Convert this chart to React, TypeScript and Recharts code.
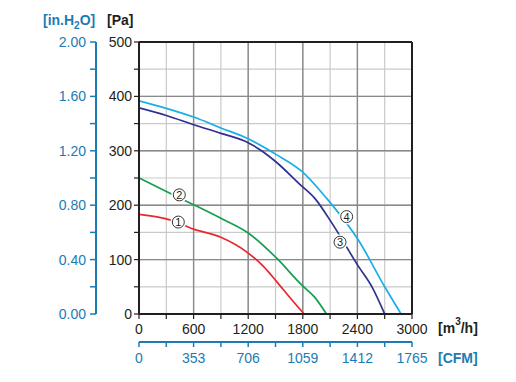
import { LineChart, Line, XAxis, YAxis, CartesianGrid, ReferenceLine, ReferenceDot } from 'recharts'

// flow [m3/h] and pressure [Pa]
const flow1 = [0, 340, 600, 900, 1200, 1370, 1510, 1660, 1815]
const pressure1 = [183, 173, 156, 141, 112, 87, 60, 30, 0]

const flow2 = [0, 340, 600, 900, 1200, 1510, 1790, 1930, 2060]
const pressure2 = [250, 222, 201, 176, 149, 103, 53, 31, 0]

const flow3 = [0, 300, 600, 900, 1200, 1330, 1510, 1770, 1930, 2120, 2410, 2560, 2700]
const pressure3 = [379, 365, 348, 332, 315, 302, 279, 238, 213, 167, 88, 50, 0]

const flow4 = [0, 300, 600, 900, 1200, 1510, 1790, 2060, 2120, 2410, 2700, 2880]
const pressure4 = [392, 378, 362, 342, 322, 293, 262, 213, 201, 136, 50, 0]

const flowTicks = [0, 300, 600, 900, 1200, 1500, 1800, 2100, 2400, 2700, 3000]
const pressureTicks = [0, 50, 100, 150, 200, 250, 300, 350, 400, 450, 500]
const inH2OTicks = [0, 0.2, 0.4, 0.6, 0.8, 1.0, 1.2, 1.4, 1.6, 1.8, 2.0]
const cfmTicks = [0, 176.5, 353, 529.5, 706, 882.5, 1059, 1235.5, 1412, 1588.5, 1765]

const darkFlowLines = [600, 1200, 1800, 2400]
const darkPressureLines = [100, 200, 300, 400]

// curve markers: number, flow, pressure
const markerIds = ['1', '2', '3', '4']
const markerFlow = [432, 443, 2209, 2282]
const markerPressure = [169, 219, 132, 179]

const M3H_TO_CFM = 1765 / 3000

const toPoints = (q: number[], p: number[]) => q.map((v, i) => ({ q: v, p: p[i] }))

const curves = [
  { id: 'c1', data: toPoints(flow1, pressure1), color: '#e8282e' },
  { id: 'c2', data: toPoints(flow2, pressure2), color: '#13a04f' },
  { id: 'c3', data: toPoints(flow3, pressure3), color: '#2e3190' },
  { id: 'c4', data: toPoints(flow4, pressure4), color: '#1aaee6' },
]

// same curve 4 expressed in CFM, only so the CFM axis has a series bound to it
const curve4Cfm = toPoints(flow4.map((q) => q * M3H_TO_CFM), pressure4)

const FONT = '"Liberation Sans", Arial, sans-serif'
const BLACK = '#231f20'
const BLUE = '#1b7cb4'

const Marker = ({ cx, cy, label }: { cx?: number; cy?: number; label: string }) => {
  if (cx == null || cy == null) return null
  return (
    <g>
      <circle cx={cx} cy={cy} r={8} fill="#fff" />
      <circle cx={cx} cy={cy} r={6} fill="#fff" stroke={BLACK} strokeWidth={0.9} />
      <text x={cx} y={cy + 4} textAnchor="middle" fontSize={11} fontFamily={FONT} fill={BLACK}>
        {label}
      </text>
    </g>
  )
}

export default function App() {
  return (
    <div style={{ position: 'absolute', left: 0, top: 0, width: 516, height: 382, background: '#fff' }}>
      <LineChart
        width={516}
        height={382}
        margin={{ top: 42, right: 104, bottom: 10, left: 36 }}
        style={{ fontFamily: FONT }}
      >
        <CartesianGrid stroke="#c9c9c9" strokeWidth={1.2} xAxisId="main" yAxisId="main" />
        <XAxis
          xAxisId="sec"
          dataKey="q"
          type="number"
          domain={[0, 1765]}
          allowDataOverflow
          ticks={cfmTicks}
          interval={0}
          height={30}
          tickSize={5}
          tickMargin={6}
          tick={{ fontSize: 14, fill: BLUE }}
          tickFormatter={(v: number, i: number) => (i % 2 === 0 ? String(Math.round(v)) : '')}
          axisLine={{ stroke: BLUE, strokeWidth: 2 }}
          tickLine={{ stroke: BLUE, strokeWidth: 1.5 }}
        />
        <XAxis
          xAxisId="main"
          dataKey="q"
          type="number"
          domain={[0, 3000]}
          allowDataOverflow
          ticks={flowTicks}
          interval={0}
          height={28}
          tickSize={5}
          tickMargin={5}
          tick={{ fontSize: 14, fill: BLACK }}
          tickFormatter={(v: number) => (v % 600 === 0 ? String(v) : '')}
          axisLine={{ stroke: BLACK, strokeWidth: 2 }}
          tickLine={{ stroke: BLACK, strokeWidth: 1.2 }}
        />
        <YAxis
          yAxisId="sec"
          type="number"
          domain={[0, 2]}
          allowDataOverflow
          ticks={inH2OTicks}
          interval={0}
          width={60}
          tickSize={6}
          tickMargin={4}
          tick={{ fontSize: 14, fill: BLUE }}
          tickFormatter={(v: number, i: number) => (i % 2 === 0 ? v.toFixed(2) : '')}
          axisLine={{ stroke: BLUE, strokeWidth: 2 }}
          tickLine={{ stroke: BLUE, strokeWidth: 1.5 }}
        />
        <YAxis
          yAxisId="main"
          type="number"
          domain={[0, 500]}
          allowDataOverflow
          ticks={pressureTicks}
          interval={0}
          width={43}
          tickSize={5}
          tickMargin={2}
          tick={{ fontSize: 14, fill: BLACK }}
          tickFormatter={(v: number) => (v % 100 === 0 ? String(v) : '')}
          axisLine={{ stroke: BLACK, strokeWidth: 2 }}
          tickLine={{ stroke: BLACK, strokeWidth: 1.2 }}
        />
        {darkPressureLines.map((p) => (
          <ReferenceLine key={'h' + p} xAxisId="main" yAxisId="main" y={p} stroke="#8a8a8a" strokeWidth={1.4} />
        ))}
        {darkFlowLines.map((q) => (
          <ReferenceLine key={'v' + q} xAxisId="main" yAxisId="main" x={q} stroke="#8a8a8a" strokeWidth={1.4} />
        ))}
        <ReferenceLine xAxisId="main" yAxisId="main" y={500} stroke={BLACK} strokeWidth={2} />
        <ReferenceLine xAxisId="main" yAxisId="main" x={3000} stroke={BLACK} strokeWidth={2} />
        <Line
          xAxisId="sec"
          yAxisId="main"
          data={curve4Cfm}
          dataKey="p"
          stroke="none"
          dot={false}
          activeDot={false}
          isAnimationActive={false}
        />
        {curves.map((c) => (
          <Line
            key={c.id}
            xAxisId="main"
            yAxisId="main"
            data={c.data}
            dataKey="p"
            type="monotone"
            stroke={c.color}
            strokeWidth={1.7}
            dot={false}
            activeDot={false}
            isAnimationActive={false}
          />
        ))}
        {markerIds.map((id, i) => (
          <ReferenceDot
            key={'m' + id}
            xAxisId="main"
            yAxisId="main"
            x={markerFlow[i]}
            y={markerPressure[i]}
            r={6}
            shape={(props: any) => <Marker cx={props.cx} cy={props.cy} label={id} />}
          />
        ))}
      </LineChart>
      <div style={{ position: 'absolute', left: 43, top: 12, fontFamily: FONT, fontSize: 14, fontWeight: 'bold', color: BLUE, lineHeight: '16px', whiteSpace: 'nowrap' }}>
        [in.H<sub style={{ fontSize: 10, verticalAlign: -4, lineHeight: 0 }}>2</sub>O]
      </div>
      <div style={{ position: 'absolute', left: 107, top: 12, fontFamily: FONT, fontSize: 14, fontWeight: 'bold', color: BLACK, lineHeight: '16px' }}>
        [Pa]
      </div>
      <div style={{ position: 'absolute', left: 438, top: 320, fontFamily: FONT, fontSize: 14, fontWeight: 'bold', color: BLACK, lineHeight: '16px', whiteSpace: 'nowrap' }}>
        [m<sup style={{ fontSize: 10, verticalAlign: 8, lineHeight: 0 }}>3</sup>/h]
      </div>
      <div style={{ position: 'absolute', left: 438, top: 350, fontFamily: FONT, fontSize: 14, fontWeight: 'bold', color: BLUE, lineHeight: '16px' }}>
        [CFM]
      </div>
    </div>
  )
}
